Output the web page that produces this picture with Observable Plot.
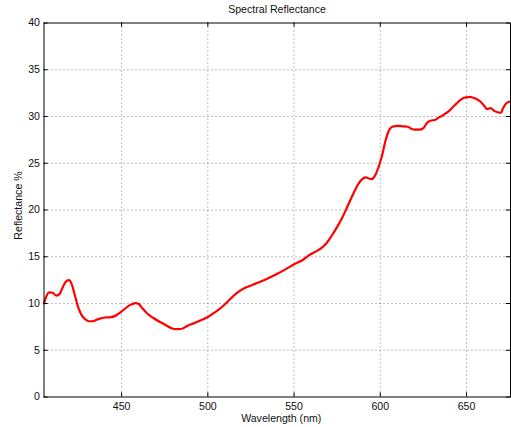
<!DOCTYPE html>
<html>
<head>
<meta charset="utf-8">
<script src="https://cdn.jsdelivr.net/npm/d3@7"></script>
<script src="https://cdn.jsdelivr.net/npm/@observablehq/plot@0.6"></script>
<style>
  html, body { margin: 0; padding: 0; background: #fff; }
  #title { height: 18px; box-sizing: border-box; padding-left: 44px; padding-right: 1px; padding-top: 3px;
           text-align: center; font: 10.6px "Liberation Sans", Arial, sans-serif; color: #111; line-height: 13px; }
  svg { display: block; overflow: visible; }
</style>
</head>
<body>
<div id="title">Spectral Reflectance</div>
<div id="chart"></div>
<script>
const wavelength = [405,406,408,410,412,414,416,418,419.5,421,423,425,427,429,431,433,436,440,444,446,449,452,455,458,460,462,465,468,472,476,479,482,485,488,492,496,500,504,508,512,516,519,522,526,530,535,540,545,550,555,559,563,566,569,572,575,578,581,584,587,589.5,591.5,593,595,597,599,601,603,605,607,610,613,616,618,620,623,625,627,629,632,634,636,638,640,642,644,646,648,650,652,654,656,658,660,662,664,666,668,670,671,672.5,675];
const reflectance = [10.0,10.6,11.2,11.15,10.85,11.0,11.8,12.4,12.5,12.1,10.8,9.5,8.7,8.3,8.1,8.1,8.3,8.5,8.55,8.65,9.0,9.45,9.85,10.05,9.95,9.5,8.9,8.5,8.05,7.65,7.35,7.25,7.3,7.6,7.9,8.2,8.55,9.05,9.6,10.3,11.0,11.4,11.7,12.0,12.3,12.7,13.15,13.65,14.2,14.65,15.2,15.6,15.95,16.5,17.3,18.2,19.2,20.4,21.6,22.7,23.3,23.5,23.4,23.3,23.7,24.6,25.8,27.4,28.5,28.9,29.0,28.95,28.9,28.7,28.6,28.6,28.75,29.3,29.55,29.65,29.9,30.1,30.35,30.6,31.0,31.35,31.7,31.95,32.05,32.1,32.0,31.85,31.6,31.2,30.8,30.9,30.6,30.45,30.4,30.8,31.3,31.6];
const xTicks = [450, 500, 550, 600, 650];
const yTicks = [0, 5, 10, 15, 20, 25, 30, 35, 40];
const titleText = "Spectral Reflectance";
const xLabel = "Wavelength (nm)";
const yLabel = "Reflectance %";

document.getElementById("title").textContent = titleText;
const data = wavelength.map((w, i) => ({w, r: reflectance[i]}));
const font = '"Liberation Sans", Arial, sans-serif';

const chart = Plot.plot({
  width: 511,
  height: 409,
  marginLeft: 43.5,
  marginRight: 1,
  marginTop: 4.5,
  marginBottom: 30.5,
  style: {fontFamily: font, fontSize: "10.6px", color: "#111", background: "#fff", overflow: "visible"},
  x: {domain: [405, 675.5], axis: null},
  y: {domain: [0, 40], axis: null},
  marks: [
    Plot.gridX(xTicks, {stroke: "#000", strokeOpacity: 0.5, strokeDasharray: "1,3"}),
    Plot.gridY(yTicks.slice(1, -1), {stroke: "#000", strokeOpacity: 0.5, strokeDasharray: "1,3"}),
    Plot.line(data, {x: "w", y: "r", stroke: "#ff0000", strokeWidth: 2.2, curve: "monotone-x"}),
    Plot.ruleX(xTicks, {x: d => d, y1: 0, y2: 0.45, stroke: "#000"}),
    Plot.ruleX(xTicks, {x: d => d, y1: 40, y2: 39.55, stroke: "#000"}),
    Plot.ruleY(yTicks, {y: d => d, x1: 405, x2: 407.4, stroke: "#000"}),
    Plot.ruleY(yTicks, {y: d => d, x1: 675.5, x2: 673.1, stroke: "#000"}),
    Plot.frame({stroke: "#000", strokeWidth: 1}),
    Plot.axisX(xTicks, {label: null, tickSize: 0, tickPadding: 5, fontSize: 10.6, fill: "#111", tickFormat: d => String(d)}),
    Plot.axisY(yTicks, {label: null, tickSize: 0, tickPadding: 4, fontSize: 10.6, fill: "#111", tickFormat: d => String(d)}),
    Plot.text([xLabel], {frameAnchor: "bottom", dx: 4, dy: 22, lineAnchor: "middle", fontSize: 10.6, fill: "#111"}),
    Plot.text([yLabel], {frameAnchor: "left", rotate: -90, dx: -25, dy: -4.5, textAnchor: "middle", lineAnchor: "middle", fontSize: 10.6, fill: "#111"})
  ]
});
document.getElementById("chart").appendChild(chart);
</script>
</body>
</html>
